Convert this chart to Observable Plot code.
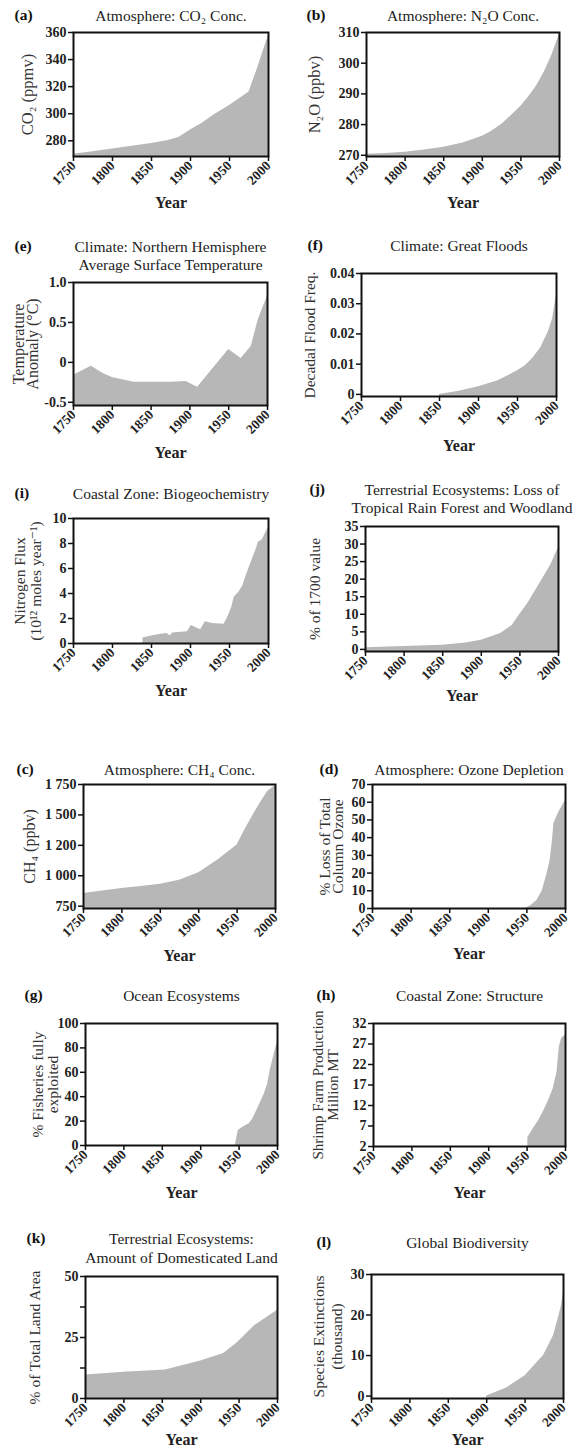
<!DOCTYPE html>
<html><head><meta charset="utf-8">
<script src="https://cdn.jsdelivr.net/npm/d3@7"></script>
<script src="https://cdn.jsdelivr.net/npm/@observablehq/plot@0.6"></script>
<style>
body{margin:0;background:#fff;}
#root{position:relative;width:581px;height:1453px;overflow:hidden;background:#fff;}
.panel{position:absolute;}
.panel svg{display:block;max-width:none;}
</style></head><body><div id="root"></div>
<script>
// ---------- data ----------
const xTicks = [1750, 1800, 1850, 1900, 1950, 2000];

const co2Years = [1750,1775,1800,1825,1850,1870,1885,1900,1915,1930,1950,1965,1975,1985,2000];
const co2Values = [270,272,274,276,278,280,282.5,288,293,299,306,312,316,332,358];
const co2Ticks = [280,300,320,340,360];
const co2TickLabels = ["280","300","320","340","360"];

const n2oYears = [1750,1775,1800,1825,1850,1875,1900,1910,1925,1940,1950,1960,1970,1980,1990,2000];
const n2oValues = [270.3,270.6,271,271.7,272.6,274,276.2,277.5,280,283.5,286,289,292.5,297,302.5,309.5];
const n2oTicks = [270,280,290,300,310];
const n2oTickLabels = ["270","280","290","300","310"];

const tempYears = [1750,1773,1790,1800,1828,1850,1875,1895,1910,1950,1966,1979,1988,2000];
const tempValues = [-0.16,-0.05,-0.15,-0.19,-0.25,-0.25,-0.25,-0.24,-0.31,0.16,0.05,0.2,0.53,0.83];
const tempTicks = [-0.5,0,0.5,1.0];
const tempTickLabels = ["-0.5","0","0.5","1.0"];

const floodYears = [1850,1875,1900,1925,1950,1960,1970,1980,1990,1995,2000];
const floodValues = [0,0.001,0.0025,0.0045,0.0078,0.0095,0.012,0.0155,0.021,0.025,0.033];
const floodTicks = [0,0.01,0.02,0.03,0.04];
const floodTickLabels = ["0","0.01","0.02","0.03","0.04"];

const nitroYears = [1839,1850,1860,1870,1874,1877,1885,1896,1901,1908,1913,1919,1928,1943,1947,1953,1956,1962,1967,1973,1979,1984,1987,1992,1996,2000];
const nitroValues = [0.45,0.6,0.72,0.8,0.6,0.85,0.88,0.95,1.45,1.25,1.1,1.75,1.6,1.55,2.0,2.9,3.7,4.1,4.6,5.7,6.7,7.5,8.1,8.3,8.8,9.3];
const nitroTicks = [0,2,4,6,8,10];
const nitroTickLabels = ["0","2","4","6","8","10"];

const forestYears = [1750,1800,1850,1880,1900,1925,1940,1950,1960,1975,1990,2000];
const forestValues = [0.5,0.8,1.2,1.8,2.6,4.5,6.8,10,13,18.5,24,29];
const forestTicks = [0,5,10,15,20,25,30,35];
const forestTickLabels = ["0","5","10","15","20","25","30","35"];

const ch4Years = [1750,1775,1800,1825,1850,1875,1900,1925,1950,1960,1970,1980,1990,2000];
const ch4Values = [854,875,896,912,931,964,1025,1129,1253,1376,1490,1596,1695,1742];
const ch4Ticks = [750,1000,1250,1500,1750];
const ch4TickLabels = ["750","1 000","1 200","1 500","1 750"];

const ozoneYears = [1948,1955,1963,1970,1976,1980,1983,1985,1991,1996,2000];
const ozoneValues = [0,1.5,4.5,10,19.5,27,38,48,54,58,61];
const ozoneTicks = [0,10,20,30,40,50,60,70];
const ozoneTickLabels = ["0","10","20","30","40","50","60","70"];

const fishYears = [1945,1949,1955,1963,1968,1974,1983,1987,1991,1995,1998,2000];
const fishValues = [0,12.3,15,17.8,22,30,42.5,50,63,73,81,84];
const fishTicks = [0,20,40,60,80,100];
const fishTickLabels = ["0","20","40","60","80","100"];

const shrimpYears = [1951,1958,1965,1971,1978,1984,1989,1992,1995,2000];
const shrimpValues = [4.2,6.3,8.3,10.4,13.2,16.1,20.2,26.3,28.4,29.2];
const shrimpTicks = [2,7,12,17,22,27,32];
const shrimpTickLabels = ["2","7","12","17","22","27","32"];

const landYears = [1750,1800,1854,1900,1930,1948,1970,2000];
const landValues = [9.6,10.8,11.7,15.4,18.4,22.9,29.8,36.2];
const landTicks = [0,12.5,25,37.5,50];
const landTickLabels = ["0","","25","","50"];

const bioYears = [1900,1926,1950,1974,1987,1993,1997,2000];
const bioValues = [0,2,5,10,14.9,19,22,25.5];
const bioTicks = [0,10,20,30];
const bioTickLabels = ["0","10","20","30"];

// ---------- layout ----------
const panels = [
 {letter:"(a)", title:"Atmosphere: CO₂ Conc.", ylabel:"CO₂ (ppmv)", years:co2Years, values:co2Values, domain:[268.4,360], ticks:co2Ticks, labels:co2TickLabels,
  frame:[73,32,268,156], titleY:15, titleLH:1.2, letterX:14, letterY:15, ylabelX:27, ylabelLH:1, ylabelSize:16.5, yearY:202},
 {letter:"(b)", title:"Atmosphere: N₂O Conc.", ylabel:"N₂O (ppbv)", years:n2oYears, values:n2oValues, domain:[269.6,310], ticks:n2oTicks, labels:n2oTickLabels,
  frame:[366,32,559,156], titleY:15, titleLH:1.2, letterX:306, letterY:15, ylabelX:314, ylabelLH:1, ylabelSize:16.5, yearY:202},
 {letter:"(e)", title:"Climate: Northern Hemisphere\nAverage Surface Temperature", ylabel:"Temperature\nAnomaly (°C)", years:tempYears, values:tempValues, domain:[-0.54,1.0], ticks:tempTicks, labels:tempTickLabels,
  frame:[73,282,267,405], titleY:255, titleLH:1.17, letterX:14, letterY:246, ylabelX:26, ylabelLH:0.85, ylabelSize:16, yearY:452},
 {letter:"(f)", title:"Climate: Great Floods", ylabel:"Decadal Flood Freq.", years:floodYears, values:floodValues, domain:[-0.0007,0.04], ticks:floodTicks, labels:floodTickLabels,
  frame:[361,273,556,396], titleY:245, titleLH:1.2, letterX:307, letterY:245, ylabelX:310, ylabelLH:1, ylabelSize:15.5, yearY:445},
 {letter:"(i)", title:"Coastal Zone: Biogeochemistry", ylabel:"Nitrogen Flux\n(10¹² moles year⁻¹)", years:nitroYears, values:nitroValues, domain:[0,10], ticks:nitroTicks, labels:nitroTickLabels,
  frame:[73,518,268,643], titleY:493, titleLH:1.2, letterX:14, letterY:493, ylabelX:27, ylabelLH:1.05, ylabelSize:15.5, yearY:690},
 {letter:"(j)", title:"Terrestrial Ecosystems: Loss of\nTropical Rain Forest and Woodland", ylabel:"% of 1700 value", years:forestYears, values:forestValues, domain:[-0.6,35], ticks:forestTicks, labels:forestTickLabels,
  frame:[365,526,558,651], titleY:498, titleLH:1.17, letterX:309, letterY:489, ylabelX:315, ylabelLH:1, ylabelSize:15.5, yearY:695},
 {letter:"(c)", title:"Atmosphere: CH₄ Conc.", ylabel:"CH₄ (ppbv)", years:ch4Years, values:ch4Values, domain:[731,1750], ticks:ch4Ticks, labels:ch4TickLabels,
  frame:[83,784,275,908], titleY:769, titleLH:1.2, letterX:16, letterY:769, ylabelX:29, ylabelLH:1, ylabelSize:16, yearY:955},
 {letter:"(d)", title:"Atmosphere: Ozone Depletion", ylabel:"% Loss of Total\nColumn Ozone", years:ozoneYears, values:ozoneValues, domain:[0,70], ticks:ozoneTicks, labels:ozoneTickLabels,
  frame:[372,784,565,908], titleY:769, titleLH:1.2, letterX:319, letterY:769, ylabelX:332, ylabelLH:0.85, ylabelSize:15.5, yearY:953},
 {letter:"(g)", title:"Ocean Ecosystems", ylabel:"% Fisheries fully\nexploited", years:fishYears, values:fishValues, domain:[0,100], ticks:fishTicks, labels:fishTickLabels,
  frame:[85,1023,277,1145], titleY:995, titleLH:1.2, letterX:24, letterY:995, ylabelX:45, ylabelLH:0.95, ylabelSize:15.5, yearY:1192},
 {letter:"(h)", title:"Coastal Zone: Structure", ylabel:"Shrimp Farm Production\nMillion MT", years:shrimpYears, values:shrimpValues, domain:[2,32], ticks:shrimpTicks, labels:shrimpTickLabels,
  frame:[373,1023,565,1146], titleY:995, titleLH:1.2, letterX:316, letterY:995, ylabelX:325, ylabelLH:1.0, ylabelSize:15, yearY:1192},
 {letter:"(k)", title:"Terrestrial Ecosystems:\nAmount of Domesticated Land", ylabel:"% of Total Land Area", years:landYears, values:landValues, domain:[0,50], ticks:landTicks, labels:landTickLabels,
  frame:[85,1276,277,1398], titleY:1247, titleLH:1.22, letterX:26, letterY:1238, ylabelX:35, ylabelLH:1, ylabelSize:15.5, yearY:1439},
 {letter:"(l)", title:"Global Biodiversity", ylabel:"Species Extinctions\n(thousand)", years:bioYears, values:bioValues, domain:[-0.6,30], ticks:bioTicks, labels:bioTickLabels,
  frame:[371,1274,563,1398], titleY:1242, titleLH:1.2, letterX:316, letterY:1242, ylabelX:327, ylabelLH:1.15, ylabelSize:15.5, yearY:1439}
];

const root = document.getElementById("root");
const FONT = "'Liberation Serif', 'DejaVu Serif', serif";
const mL = 75, mT = 50, mR = 12, mB = 62;

for (const p of panels) {
  const [x0, y0, x1, y1] = p.frame;
  const fw = x1 - x0, fh = y1 - y0;
  const data = p.years.map((year, i) => ({year, value: p.values[i]}));
  const base = p.domain[0];
  const chart = Plot.plot({
    width: fw + mL + mR,
    height: fh + mT + mB,
    marginLeft: mL, marginTop: mT, marginRight: mR, marginBottom: mB,
    style: {fontFamily: FONT, background: "transparent", overflow: "visible", color: "#111"},
    x: {domain: [1750, 2000]},
    y: {domain: p.domain},
    marks: [
      Plot.areaY(data, {x: "year", y1: () => base, y2: "value", fill: "#b7b7b7", clip: true}),
      Plot.frame({stroke: "#111", strokeWidth: 2}),
      Plot.axisX({ticks: xTicks, tickSize: 5, tickPadding: 2, tickRotate: -45, label: null, fontSize: 13.5, fontWeight: "bold", strokeWidth: 1.5, fill: "#222", tickFormat: d => String(d)}),
      Plot.axisY({ticks: p.ticks, tickSize: 5, tickPadding: 2, label: null, fontSize: 14, fontWeight: "bold", strokeWidth: 1.5, fill: "#222",
        tickFormat: d => p.labels[p.ticks.indexOf(d)]}),
      Plot.text([p.ylabel], {text: d => d, frameAnchor: "left", textAnchor: "middle", lineAnchor: "middle", rotate: -90, dx: p.ylabelX - x0, fontSize: p.ylabelSize, lineHeight: p.ylabelLH, fill: "#333"}),
      Plot.text(["Year"], {text: d => d, frameAnchor: "bottom", lineAnchor: "middle", dy: p.yearY - y1, fontSize: 16, fontWeight: "bold", fill: "#222"}),
      Plot.text([p.title], {text: d => d, frameAnchor: "top", lineAnchor: "middle", dy: p.titleY - y0, fontSize: 15.5, lineHeight: p.titleLH, fill: "#222"}),
      Plot.text([p.letter], {text: d => d, frameAnchor: "top-left", textAnchor: "start", lineAnchor: "middle", dx: p.letterX - x0, dy: p.letterY - y0, fontSize: 15.5, fontWeight: "bold", fill: "#111"})
    ]
  });
  const div = document.createElement("div");
  div.className = "panel";
  div.style.left = (x0 - mL) + "px";
  div.style.top = (y0 - mT) + "px";
  div.appendChild(chart);
  root.appendChild(div);
}
</script></body></html>
